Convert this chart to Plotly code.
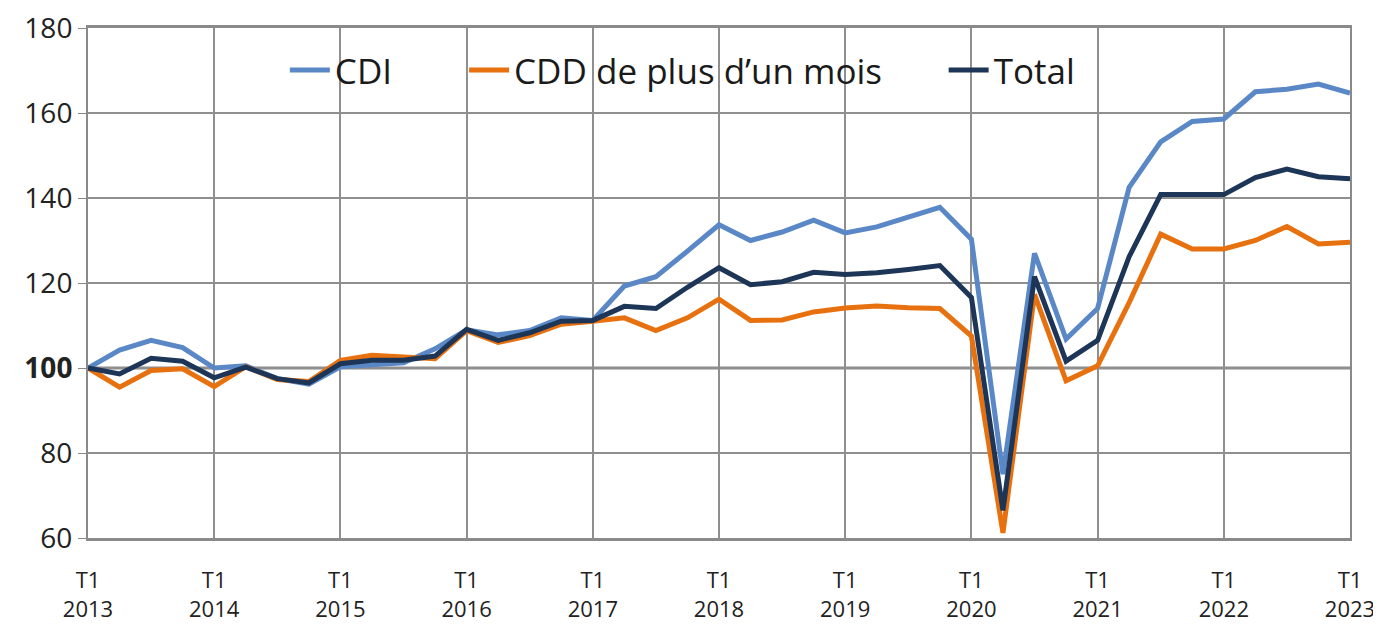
import plotly.graph_objects as go

quarters = list(range(41))
tick_pos = list(range(0, 41, 4))
tick_labels = [f"T1<br>{y}" for y in range(2013, 2024)]

cdi = [100, 104.2, 106.5, 104.8, 100, 100.5, 97.5, 96.2, 100.3, 100.8,
       101.2, 104.5, 109, 107.8, 108.8, 111.8, 111.2, 119.3, 121.5, 127.5,
       133.7, 130, 132, 134.8, 131.8, 133.2, 135.5, 137.8, 130.3, 75,
       127, 106.8, 114, 142.5, 153.2, 158, 158.6, 165, 165.6, 166.8, 164.7]
cdd = [100, 95.5, 99.4, 99.8, 95.6, 100.3, 97.3, 96.8, 101.8, 103,
       102.6, 102.2, 108.8, 106, 107.6, 110.3, 111, 111.8, 108.8, 111.8,
       116.2, 111.2, 111.3, 113.2, 114.1, 114.6, 114.2, 114, 107.5, 61.2,
       117.3, 97, 100.5, 115.4, 131.5, 128, 128, 130, 133.3, 129.2, 129.6]
total = [100, 98.6, 102.3, 101.6, 97.7, 100.2, 97.5, 96.5, 101, 101.8,
         101.8, 102.8, 109.1, 106.5, 108.3, 111, 111.2, 114.5, 114, 119,
         123.6, 119.6, 120.3, 122.5, 122, 122.4, 123.2, 124.1, 116.6, 66.5,
         121.5, 101.6, 106.5, 126.2, 140.8, 140.8, 140.8, 144.8, 146.8, 145, 144.5]

y_ticks = [60, 80, 100, 120, 140, 160, 180]
y_labels = ["60", "80", "<b>100</b>", "120", "140", "160", "180"]

series = [
    ("CDI", cdi, "#5a87c6", "legend", 0.156),
    ("CDD de plus d’un mois", cdd, "#e8710f", "legend2", 0.298),
    ("Total", total, "#1d3657", "legend3", 0.678),
]

fig = go.Figure()
legend_cfg = {}
for name, vals, color, leg, lx in series:
    fig.add_trace(go.Scatter(x=quarters, y=vals, name=name, mode="lines",
                             line=dict(color=color, width=5), legend=leg))
    legend_cfg[leg] = dict(orientation="h", x=lx, y=0.975, xanchor="left", yanchor="top",
                           bgcolor="rgba(0,0,0,0)", font=dict(size=35, color="#1a1a1a"),
                           itemwidth=40)

# white box behind the legend, hiding the gridlines as in the source
fig.add_shape(type="rect", xref="paper", yref="paper", x0=0.143, x1=0.805, y0=0.845, y1=0.972,
              fillcolor="white", line=dict(width=0), layer="between")
fig.add_shape(type="line", xref="paper", yref="y", x0=0, x1=1, y0=100, y1=100,
              line=dict(color="#8a8a8a", width=3), layer="between")

# the page has an 8px body margin, so the figure is placed to fill the window from there
fig.update_layout(
    width=1381, height=618,
    margin=dict(l=80, r=39, t=20, b=88, autoexpand=False),
    paper_bgcolor="white", plot_bgcolor="white",
    font=dict(family="Open Sans", color="#222222"),
    showlegend=True,
    **legend_cfg,
)
fig.update_xaxes(range=[0, 40], tickmode="array", tickvals=tick_pos, ticktext=tick_labels,
                 showgrid=True, gridcolor="#8f8f8f", gridwidth=1.5,
                 showline=True, linecolor="#8a8a8a", linewidth=3, mirror=True,
                 ticks="", ticklabelstandoff=21, ticklabeloverflow="allow",
                 tickfont=dict(size=22, color="#222222"), zeroline=False)
fig.update_yaxes(range=[60, 180], tickmode="array", tickvals=y_ticks, ticktext=y_labels,
                 showgrid=True, gridcolor="#8f8f8f", gridwidth=1.5,
                 showline=True, linecolor="#8a8a8a", linewidth=2, mirror=True,
                 ticks="outside", ticklen=8, tickcolor="#8a8a8a", ticklabeloverflow="allow",
                 tickfont=dict(size=28, color="#222222"), zeroline=False)

fig.write_html("out.html")
